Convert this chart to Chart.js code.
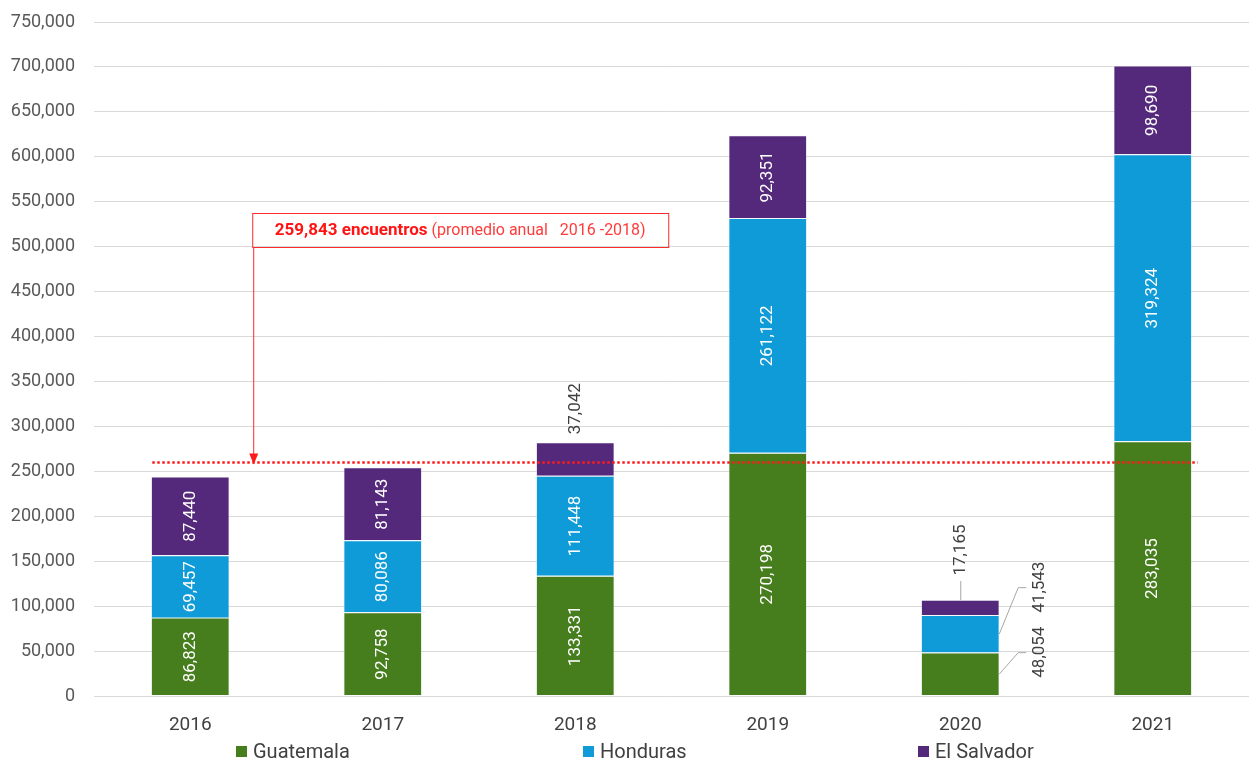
<!DOCTYPE html>
<html><head><meta charset="utf-8">
<script src="https://cdn.jsdelivr.net/npm/chart.js@4.4.1/dist/chart.umd.min.js"></script>
<style>
html,body{margin:0;padding:0;background:#fff;}
#wrap{position:relative;width:1249px;height:762px;overflow:hidden;}
#c{position:absolute;left:0;top:0;}
#legend{position:absolute;top:739px;left:0;width:1249px;height:24px;font-family:Roboto,sans-serif;font-size:20px;color:#404040;}
.item{position:absolute;top:0;height:24px;display:flex;align-items:center;white-space:nowrap;}
.sw{width:11px;height:11px;margin-right:6px;}
</style></head><body>
<div id="wrap"><canvas id="c" width="1249" height="762"></canvas><div id="legend"></div></div>
<script>
const years = ['2016', '2017', '2018', '2019', '2020', '2021'];
const guatemala = [86823, 92758, 133331, 270198, 48054, 283035];
const honduras = [69457, 80086, 111448, 261122, 41543, 319324];
const elSalvador = [87440, 81143, 37042, 92351, 17165, 98690];
const seriesNames = ['Guatemala', 'Honduras', 'El Salvador'];
const seriesColors = ['#467d1d', '#0f9bd7', '#54297b'];
const promedioAnual = [259843];
const annotationBold = '259,843 encuentros';
const annotationRest = ' (promedio anual   2016 -2018)';
const yMin = 0, yMax = 750000, yStep = 50000;

const FONT = 'Roboto, "Noto Sans", sans-serif';
const fmt = v => v.toLocaleString('en-US');

function drawRot(ctx, txt, x, y, color) {
  ctx.save();
  ctx.translate(x, y);
  ctx.rotate(-Math.PI / 2);
  ctx.fillStyle = color;
  ctx.textAlign = 'center';
  ctx.textBaseline = 'middle';
  ctx.fillText(txt, 0, 0);
  ctx.restore();
}

const overlayPlugin = {
  id: 'overlay',
  afterDatasetsDraw(chart) {
    const ctx = chart.ctx;
    const ys = chart.scales.y;
    const m0 = chart.getDatasetMeta(0);
    const first = m0.data[0];
    const last = m0.data[m0.data.length - 1];
    const refY = ys.getPixelForValue(promedioAnual[0]);

    // dotted average line
    ctx.save();
    ctx.strokeStyle = '#ff1a1a';
    ctx.lineWidth = 2.5;
    ctx.setLineDash([2.5, 2.5]);
    ctx.beginPath();
    ctx.moveTo(first.x - first.width / 2 + 1, refY);
    ctx.lineTo(last.x + last.width / 2 + 6, refY);
    ctx.stroke();
    ctx.restore();

    // annotation box + arrow
    const arrowX = first.x + first.width / 2 + 24;
    const boxL = arrowX - 1, boxT = Math.round(ys.getPixelForValue(537500)), boxW = 416, boxH = 34;
    ctx.save();
    ctx.strokeStyle = '#ff2a2a';
    ctx.lineWidth = 1;
    ctx.strokeRect(boxL + 0.5, boxT + 0.5, boxW, boxH);
    ctx.beginPath();
    ctx.moveTo(arrowX + 0.5, boxT + boxH);
    ctx.lineTo(arrowX + 0.5, refY - 6);
    ctx.stroke();
    ctx.fillStyle = '#ff1a1a';
    ctx.beginPath();
    ctx.moveTo(arrowX + 0.5, refY + 2);
    ctx.lineTo(arrowX - 4, refY - 9);
    ctx.lineTo(arrowX + 5, refY - 9);
    ctx.closePath();
    ctx.fill();
    ctx.font = 'bold 17px ' + FONT;
    const wb = ctx.measureText(annotationBold).width;
    ctx.font = '16px ' + FONT;
    const wr = ctx.measureText(annotationRest).width;
    const tx = boxL + (boxW - wb - wr) / 2;
    const ty = boxT + boxH / 2 + 1;
    ctx.textBaseline = 'middle';
    ctx.textAlign = 'left';
    ctx.font = 'bold 17px ' + FONT;
    ctx.fillStyle = '#ff1414';
    ctx.fillText(annotationBold, tx, ty);
    ctx.font = '16px ' + FONT;
    ctx.fillStyle = '#ff3c3c';
    ctx.fillText(annotationRest, tx + wb, ty);
    ctx.restore();

    // data labels
    ctx.save();
    ctx.font = '17px ' + FONT;
    const n = chart.data.labels.length;
    const nd = chart.data.datasets.length;
    for (let i = 0; i < n; i++) {
      const info = [];
      for (let k = 0; k < nd; k++) {
        const el = chart.getDatasetMeta(k).data[i];
        const v = chart.data.datasets[k].data[i];
        const txt = fmt(v);
        const w = ctx.measureText(txt).width;
        const h = Math.abs(el.base - el.y);
        info.push({ el, txt, w, h, inside: h >= w + 6 });
      }
      const outsideCount = info.filter(o => !o.inside).length;
      let prevY = Infinity;
      info.forEach((o, k) => {
        const el = o.el;
        const cx = el.x;
        const cy = (el.y + el.base) / 2;
        if (o.inside) { drawRot(ctx, o.txt, cx, cy, '#ffffff'); return; }
        ctx.strokeStyle = '#a6a6a6';
        ctx.lineWidth = 1;
        if (k === nd - 1) {
          if (outsideCount > 1) {
            ctx.beginPath();
            ctx.moveTo(cx + 0.5, el.y);
            ctx.lineTo(cx + 0.5, el.y - 19);
            ctx.stroke();
            drawRot(ctx, o.txt, cx, el.y - 50, '#404040');
          } else {
            drawRot(ctx, o.txt, cx, el.y - 34, '#404040');
          }
        } else {
          const ly = Math.min(cy - 22, prevY - 65);
          prevY = ly;
          const rx = cx + el.width / 2;
          ctx.beginPath();
          ctx.moveTo(rx, cy);
          ctx.lineTo(rx + 19, ly + 0.5);
          ctx.lineTo(rx + 27, ly + 0.5);
          ctx.stroke();
          drawRot(ctx, o.txt, rx + 41, ly, '#404040');
        }
      });
    }
    ctx.restore();
  }
};

const seriesData = [guatemala, honduras, elSalvador];
const datasets = seriesNames.map((name, k) => ({
  label: name,
  data: seriesData[k],
  backgroundColor: seriesColors[k],
  borderColor: 'rgba(235,240,245,0.8)',
  borderWidth: 0.6,
  borderSkipped: false,
  barPercentage: 0.405,
  categoryPercentage: 1
}));

const chart = new Chart(document.getElementById('c'), {
  type: 'bar',
  data: { labels: years, datasets },
  options: {
    responsive: false,
    animation: false,
    events: [],
    layout: { padding: { top: 22, right: 0, left: 0, bottom: 0 } },
    plugins: { legend: { display: false }, tooltip: { enabled: false } },
    scales: {
      x: {
        stacked: true,
        grid: { display: false },
        border: { display: false },
        ticks: { color: '#404040', font: { family: FONT, size: 19 }, padding: 10 },
        afterFit(s) { s.height = 66; }
      },
      y: {
        stacked: true,
        min: yMin, max: yMax,
        ticks: { stepSize: yStep, color: '#595959', font: { family: FONT, size: 18 }, padding: 3, callback: v => fmt(v) },
        grid: { color: '#d9d9d9', drawTicks: true, tickLength: 16, tickColor: 'rgba(0,0,0,0)', lineWidth: 1 },
        border: { display: false },
        afterFit(s) { s.width = 94; }
      }
    }
  },
  plugins: [overlayPlugin]
});

// legend (built from the chart's datasets)
const legendLeft = [236, 583, 918];
const lg = document.getElementById('legend');
chart.data.datasets.forEach((d, k) => {
  const it = document.createElement('div');
  it.className = 'item';
  it.style.left = legendLeft[k] + 'px';
  const sw = document.createElement('span');
  sw.className = 'sw';
  sw.style.background = d.backgroundColor;
  const t = document.createElement('span');
  t.textContent = d.label;
  it.appendChild(sw); it.appendChild(t);
  lg.appendChild(it);
});
</script>
</body></html>
